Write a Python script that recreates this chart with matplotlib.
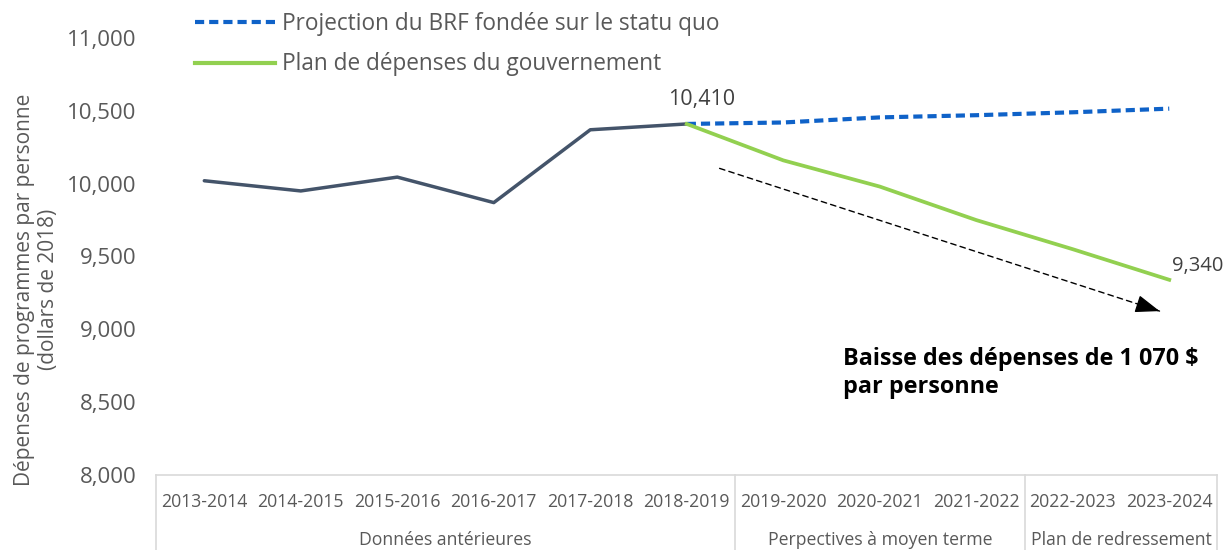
import matplotlib
matplotlib.use("Agg")
import matplotlib.pyplot as plt
from matplotlib.lines import Line2D

plt.rcParams['font.family'] = ['Open Sans', 'DejaVu Sans']

# données
years = ["2013-2014", "2014-2015", "2015-2016", "2016-2017", "2017-2018", "2018-2019",
         "2019-2020", "2020-2021", "2021-2022", "2022-2023", "2023-2024"]
historique = [10020, 9950, 10045, 9870, 10370, 10410]
projection_brf = [10410, 10420, 10455, 10470, 10490, 10515]
plan_gouv = [10410, 10160, 9980, 9750, 9550, 9340]
groupes = ["Données antérieures", "Perpectives à moyen terme", "Plan de redressement"]
groupe_tailles = [6, 3, 2]

x = list(range(len(years)))
x_hist = x[:len(historique)]
x_proj = x[len(historique) - 1:]

grey = "#595959"
fig = plt.figure(figsize=(12.23, 5.5), dpi=100)
ax = fig.add_axes([0.1276, 0.1364, 0.8679, 0.7945])

ax.plot(x_hist, historique, color="#44546A", lw=2.5, solid_capstyle="round")
ax.plot(x_proj, projection_brf, color="#0F62C8", lw=3, ls=(0, (2.2, 1.2)))
ax.plot(x_proj, plan_gouv, color="#92D050", lw=2.7)

ax.set_xlim(-0.5, len(years) - 0.5)
ax.set_ylim(8000, 11000)
ax.set_yticks(range(8000, 11001, 500))
ax.set_yticklabels([f"{v:,}" for v in range(8000, 11001, 500)], fontsize=16, color=grey)
ax.tick_params(axis="y", length=0, pad=14)
ax.set_xticks(x)
ax.set_xticklabels(years, fontsize=12.7, color=grey)
ax.tick_params(axis="x", length=0, pad=13)
for s in ["top", "right", "left"]:
    ax.spines[s].set_visible(False)
ax.spines["bottom"].set_color("#D9D9D9")
ax.spines["bottom"].set_linewidth(1.2)

# séparateurs et étiquettes de groupes
pos = -0.5
trans = ax.get_xaxis_transform()
ax.plot([pos, pos], [0, -0.25], color="#D9D9D9", lw=1.2, transform=trans, clip_on=False)
for nom, n in zip(groupes, groupe_tailles):
    ax.text(pos + n / 2, -0.148, nom, transform=trans, ha="center", va="center",
            fontsize=12.7, color=grey)
    pos += n
    ax.plot([pos, pos], [0, -0.25], color="#D9D9D9", lw=1.2, transform=trans, clip_on=False)

# étiquettes de valeurs
ax.annotate(f"{plan_gouv[0]:,}", (x_proj[0], plan_gouv[0]), xytext=(11, 10),
            textcoords="offset points", ha="center", va="bottom", fontsize=15.5, color="#404040")
ax.annotate(f"{plan_gouv[-1]:,}", (x_proj[-1], plan_gouv[-1]), xytext=(2, 10),
            textcoords="offset points", ha="left", va="center", fontsize=14.5, color="#404040")

# flèche : ligne pointillée + pointe pleine
x0, y0, x1, y1 = 5.34, 10105, 9.9, 9125
ax.annotate("", xy=(x1, y1), xytext=(x0, y0),
            arrowprops=dict(arrowstyle="-", color="black", lw=1, ls=(0, (4, 3)),
                            shrinkA=0, shrinkB=0))
f = 0.96
ax.annotate("", xy=(x1, y1), xytext=(x0 + f * (x1 - x0), y0 + f * (y1 - y0)),
            arrowprops=dict(arrowstyle="-|>,head_length=1.5,head_width=0.55", color="black",
                            lw=1, shrinkA=0, shrinkB=0))
ax.text(6.62, 8700, "Baisse des dépenses de 1 070 $\npar personne", fontsize=16.8,
        fontweight="bold", color="black", ha="left", va="center", linespacing=1.25)

fig.text(0.03, 0.473, "Dépenses de programmes par personne\n(dollars de 2018)",
         rotation=90, ha="center", va="center", fontsize=15, color=grey, linespacing=1.15)

handles = [Line2D([], [], color="#0F62C8", lw=3, ls=(0, (2.2, 1.2))),
           Line2D([], [], color="#92D050", lw=3)]
fig.legend(handles, ["Projection du BRF fondée sur le statu quo", "Plan de dépenses du gouvernement"],
           loc="upper left", bbox_to_anchor=(0.143, 1.015), frameon=False, fontsize=16.3,
           labelcolor=grey, handlelength=3.5, handletextpad=0.35, labelspacing=0.72)

fig.savefig("out.png", dpi=100)
